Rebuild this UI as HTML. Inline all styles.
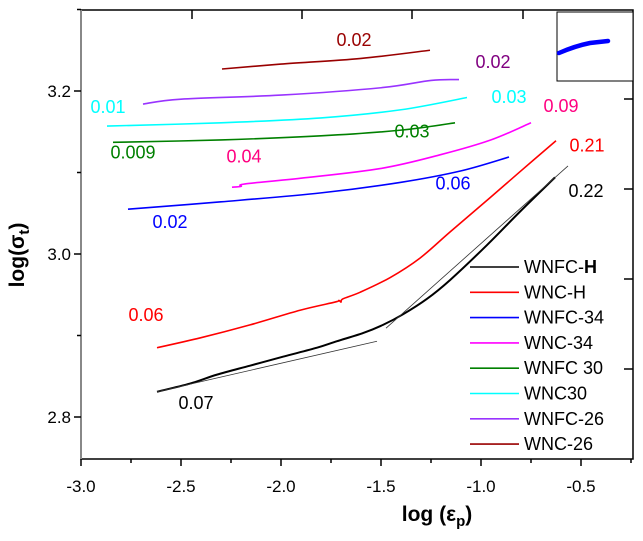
<!DOCTYPE html>
<html><head><meta charset="utf-8"><style>
body{margin:0;background:#fff}
svg{display:block;font-family:"Liberation Sans",Arial,sans-serif}
</style></head><body>
<svg id="chart" width="643" height="541">
<g id="plot"></g>
</svg>
<script>
const xTicks=[-3.0,-2.5,-2.0,-1.5,-1.0,-0.5];
const xTickLabels=["-3.0","-2.5","-2.0","-1.5","-1.0","-0.5"];
const yTicks=[2.8,3.0,3.2];
const yTickLabels=["2.8","3.0","3.2"];
const seriesNames=["WNFC-H","WNC-H","WNFC-34","WNC-34","WNFC 30","WNC30","WNFC-26","WNC-26"];
const seriesColors=["#000000","#ff0000","#0000ff","#ff00ff","#008000","#00ffff","#9933ff","#990000"];
const sWNFCH=[[-2.62,2.831],[-2.455,2.841],[-2.32,2.852],[-2.155,2.863],[-1.99,2.874],[-1.82,2.885],[-1.72,2.893],[-1.59,2.903],[-1.49,2.913],[-1.39,2.926],[-1.27,2.945],[-1.155,2.968],[-0.97,3.011],[-0.805,3.052],[-0.63,3.094]];
const sWNCH=[[-2.62,2.885],[-2.405,2.897],[-2.155,2.913],[-1.905,2.931],[-1.73,2.941],[-1.71,2.943],[-1.70,2.941],[-1.69,2.945],[-1.605,2.953],[-1.455,2.971],[-1.305,2.995],[-1.155,3.027],[-0.955,3.069],[-0.805,3.101],[-0.625,3.139]];
const sWNFC34=[[-2.765,3.055],[-2.3,3.064],[-1.8,3.075],[-1.4,3.088],[-1.1,3.102],[-0.86,3.119]];
const sWNC34=[[-2.245,3.082],[-2.2,3.083],[-2.18,3.086],[-1.9,3.093],[-1.5,3.105],[-1.2,3.122],[-0.95,3.14],[-0.75,3.161]];
const sWNFC30=[[-2.84,3.137],[-2.3,3.140],[-1.8,3.145],[-1.4,3.152],[-1.13,3.161]];
const sWNC30=[[-2.87,3.157],[-2.3,3.161],[-1.8,3.167],[-1.4,3.177],[-1.07,3.192]];
const sWNFC26=[[-2.69,3.184],[-2.5,3.19],[-2.0,3.195],[-1.5,3.204],[-1.25,3.213],[-1.11,3.214]];
const sWNC26=[[-2.295,3.227],[-2.0,3.233],[-1.6,3.240],[-1.255,3.250]];
const fitLow=[[-2.62,2.831],[-1.52,2.893]];
const fitHigh=[[-1.475,2.909],[-0.565,3.108]];
const labelTexts=["0.02","0.02","0.01","0.03","0.09","0.21","0.22","0.009","0.03","0.04","0.06","0.02","0.06","0.07"];
const labelColors=["#990000","#800080","#00ffff","#00ffff","#ff0080","#ff0000","#000000","#008000","#008000","#ff0080","#0000ff","#0000ff","#ff0000","#000000"];
const labelX=[-1.635,-0.94,-2.865,-0.86,-0.6,-0.47,-0.475,-2.74,-1.345,-2.185,-1.14,-2.555,-2.675,-2.425];
const labelY=[3.255,3.228,3.173,3.185,3.174,3.126,3.070,3.117,3.143,3.112,3.079,3.032,2.918,2.810];

const X=v=>81+(v+3)*200;
const Y=v=>254-(v-3)*815;
const NS="http://www.w3.org/2000/svg";
const g=document.getElementById('plot');
function mk(t,a,p){const e=document.createElementNS(NS,t);for(const k in a)e.setAttribute(k,a[k]);(p||g).appendChild(e);return e;}
function smooth(s){
  const p=s.map(d=>[X(d[0]),Y(d[1])]);
  let d='M'+p[0][0]+','+p[0][1];
  for(let i=0;i<p.length-1;i++){
    const p0=p[Math.max(i-1,0)],p1=p[i],p2=p[i+1],p3=p[Math.min(i+2,p.length-1)];
    const c1=[p1[0]+(p2[0]-p0[0])/6,p1[1]+(p2[1]-p0[1])/6];
    const c2=[p2[0]-(p3[0]-p1[0])/6,p2[1]-(p3[1]-p1[1])/6];
    d+=' C'+c1[0]+','+c1[1]+' '+c2[0]+','+c2[1]+' '+p2[0]+','+p2[1];
  }
  return d;
}

let fr=mk('rect',{x:81,y:10,width:552,height:449,fill:'none',stroke:'#000','stroke-width':1.5});


let la=mk('line',{x1:81,y1:10,x2:81,y2:459,stroke:'#888','stroke-width':2});



xTicks.forEach((v,i)=>{
  const t=mk('line',{x1:X(v),y1:459,x2:X(v),y2:466,stroke:'#000','stroke-width':1.5});
  
  
  const m=mk('line',{x1:X(v)+50,y1:459,x2:X(v)+50,y2:463,stroke:'#000','stroke-width':1.5});
  
  
  const l=mk('text',{x:X(v),y:492,'text-anchor':'middle','font-size':17});
  l.textContent=xTickLabels[i];
  
  
});
yTicks.forEach((v,i)=>{
  const t=mk('line',{x1:74,y1:Y(v),x2:81,y2:Y(v),stroke:'#000','stroke-width':1.5});
  
  
  const m=mk('line',{x1:77,y1:Y(v+0.1),x2:81,y2:Y(v+0.1),stroke:'#000','stroke-width':1.5});
  
  
  const l=mk('text',{x:71,y:Y(v)+6,'text-anchor':'end','font-size':17});
  l.textContent=yTickLabels[i];
  
  
});
[192,302,412,523].forEach(x=>{const t=mk('line',{x1:x,y1:10,x2:x,y2:19,stroke:'#000','stroke-width':1.5});

});
[99,189,279,369].forEach(y=>{const t=mk('line',{x1:624,y1:y,x2:633,y2:y,stroke:'#000','stroke-width':1.5});

});

const allSeries=[sWNFCH,sWNCH,sWNFC34,sWNC34,sWNFC30,sWNC30,sWNFC26,sWNC26];
allSeries.forEach((s,i)=>{
  const p=mk('path',{d:smooth(s),fill:'none',stroke:seriesColors[i],'stroke-width':i==0?2:1.6,'stroke-linejoin':'round'});
  
  
});
[fitLow,fitHigh].forEach((s,i)=>{
  const p=mk('polyline',{points:s.map(d=>X(d[0])+','+Y(d[1])).join(' '),fill:'none',stroke:'#333','stroke-width':0.8});
  
  
});

labelTexts.forEach((t,i)=>{
  const l=mk('text',{x:X(labelX[i]),y:Y(labelY[i]),'text-anchor':'middle','font-size':18,fill:labelColors[i]});
  l.textContent=t;
  
  
});

seriesNames.forEach((n,i)=>{
  const y=267+i*25.3;
  const ln=mk('line',{x1:470,y1:y,x2:519,y2:y,stroke:seriesColors[i],'stroke-width':1.6});
  
  
  const t=mk('text',{x:524,y:y+6,'font-size':18});
  if(n==='WNFC-H'){t.innerHTML='WNFC-<tspan font-weight="bold">H</tspan>';}else t.textContent=n;
  
  
});

const ins=mk('rect',{x:557,y:12,width:76,height:69,fill:'#fff',stroke:'#000','stroke-width':1});


const ic=mk('path',{d:'M559,53 Q575,46 590,43 L608,41',fill:'none',stroke:'#0000ff','stroke-width':4.5,'stroke-linecap':'round'});



const xt=mk('text',{x:437,y:521,'text-anchor':'middle','font-size':21,'font-weight':'bold'});
xt.innerHTML='log (ε<tspan font-size="15" dy="5">p</tspan><tspan dy="-5">)</tspan>';


const yt=mk('text',{x:0,y:0,'text-anchor':'middle','font-size':21,'font-weight':'bold',transform:'translate(24,255) rotate(-90)'});
yt.innerHTML='log(σ<tspan font-size="15" dy="5">t</tspan><tspan dy="-5">)</tspan>';


</script>
</body></html>
